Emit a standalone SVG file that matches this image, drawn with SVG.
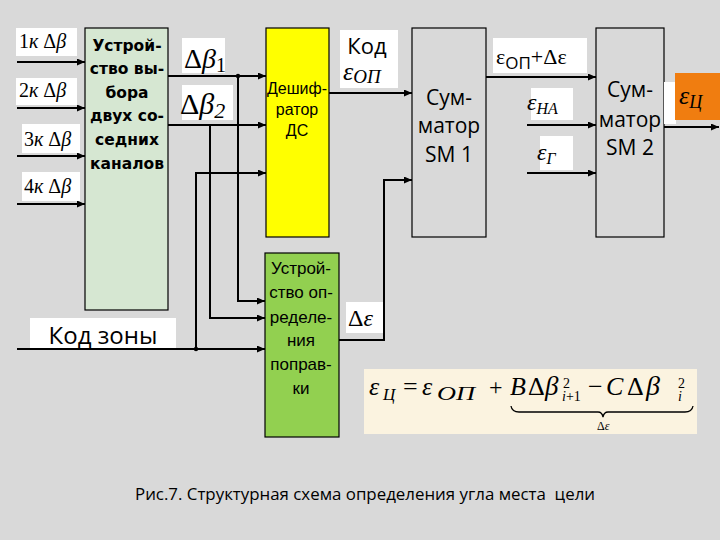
<svg xmlns="http://www.w3.org/2000/svg" width="720" height="540" viewBox="0 0 720 540">
<defs>
<marker id="ar" markerUnits="userSpaceOnUse" markerWidth="8" markerHeight="7" refX="8" refY="3.5" orient="auto"><path d="M0,0 L8,3.5 L0,7 z" fill="#000"/></marker>
<style>
.box{stroke:#000;stroke-width:1.2}
.lbl{fill:#fff}
.w{fill:none;stroke:#000;stroke-width:2}
.sans{font-family:"Open Sans","Liberation Sans",sans-serif;fill:#000}
.ar{font-family:"Liberation Sans","Arial",sans-serif;fill:#000;text-anchor:middle}
.bold{font-family:"DejaVu Sans","Liberation Sans",sans-serif;font-weight:bold;font-size:15.5px;text-anchor:middle}
.math{font-family:"Liberation Serif","DejaVu Serif",serif;fill:#000}
.it{font-style:italic}
</style>
</defs>
<rect width="720" height="540" fill="#d9d9d9"/>

<g id="inputs">
<rect class="lbl" x="16" y="28" width="61" height="28"/>
<text class="math" x="19" y="48" font-size="20">1<tspan class="it">к</tspan> Δ<tspan class="it">β</tspan></text>
<rect class="lbl" x="16" y="78" width="61" height="27"/>
<text class="math" x="19" y="97" font-size="20">2<tspan class="it">к</tspan> Δ<tspan class="it">β</tspan></text>
<rect class="lbl" x="22" y="124" width="58" height="29"/>
<text class="math" x="24" y="146" font-size="20">3<tspan class="it">к</tspan> Δ<tspan class="it">β</tspan></text>
<rect class="lbl" x="22" y="172" width="58" height="29"/>
<text class="math" x="24" y="193" font-size="20">4<tspan class="it">к</tspan> Δ<tspan class="it">β</tspan></text>
</g>

<g id="zone-label">
<rect class="lbl" x="30" y="318" width="146" height="30"/>
<text class="sans" x="103" y="344" font-size="24" text-anchor="middle">Код зоны</text>
</g>

<g id="select">
<rect class="box" x="85" y="28" width="83" height="282" fill="#d6e7d2"/>
<text class="bold" x="127" y="51">Устрой-</text>
<text class="bold" x="127" y="74">ство вы-</text>
<text class="bold" x="127" y="98">бора</text>
<text class="bold" x="127" y="121">двух со-</text>
<text class="bold" x="127" y="145">седних</text>
<text class="bold" x="127" y="169">каналов</text>
</g>

<g id="db-labels">
<rect class="lbl" x="182" y="38" width="43" height="35"/>
<text class="math" x="184" y="68" font-size="28">Δ<tspan class="it">β</tspan><tspan font-size="20" dy="4">1</tspan></text>
<rect class="lbl" x="182" y="85" width="51" height="35"/>
<text class="math" x="180" y="114" font-size="30">Δ<tspan class="it">β</tspan><tspan font-size="22" dy="4" class="it">2</tspan></text>
</g>

<g id="decoder">
<rect class="box" x="266" y="28" width="63" height="209" fill="#ffff00"/>
<text class="ar" x="297" y="94" font-size="16">Дешиф-</text>
<text class="ar" x="297" y="115" font-size="16">ратор</text>
<text class="ar" x="297" y="136" font-size="16">ДС</text>
</g>

<g id="correction">
<rect class="box" x="265" y="253" width="74" height="184" fill="#92d050"/>
<text class="ar" x="301" y="274" font-size="17">Устрой-</text>
<text class="ar" x="301" y="298" font-size="17">ство оп-</text>
<text class="ar" x="301" y="323" font-size="17">ределе-</text>
<text class="ar" x="301" y="346" font-size="17">ния</text>
<text class="ar" x="301" y="370" font-size="17">поправ-</text>
<text class="ar" x="301" y="394" font-size="17">ки</text>
</g>

<g id="kod-label">
<rect class="lbl" x="340" y="30" width="58" height="58"/>
<text class="sans" x="367" y="54" font-size="22" text-anchor="middle">Код</text>
<text class="math it" x="343" y="80" font-size="26">ε<tspan font-size="19" dy="3">ОП</tspan></text>
</g>

<g id="de-label">
<rect class="lbl" x="346" y="302" width="38" height="31"/>
<text class="math" x="348" y="326" font-size="24">Δ<tspan class="it">ε</tspan></text>
</g>

<g id="sm1">
<rect class="box" x="412" y="28" width="74" height="209" fill="#d9d9d9"/>
<text class="sans" x="449" y="105" font-size="21" text-anchor="middle">Сум-</text>
<text class="sans" x="449" y="133" font-size="21" text-anchor="middle">матор</text>
<text class="sans" x="449" y="162" font-size="21" text-anchor="middle">SM 1</text>
</g>

<g id="sum-label">
<rect class="lbl" x="493" y="38" width="94" height="35"/>
<text class="math" x="496" y="64" font-size="22">ε<tspan font-family="Open Sans, sans-serif" font-size="17" dy="5">ОП</tspan><tspan dy="-5">+Δε</tspan></text>
</g>

<g id="na-label">
<rect class="lbl" x="531" y="88" width="42" height="32"/>
<text class="math it" x="527" y="110" font-size="24">ε<tspan font-size="16" dy="4">НА</tspan></text>
</g>

<g id="g-label">
<rect class="lbl" x="540" y="136" width="33" height="34"/>
<text class="math it" x="537" y="160" font-size="24">ε<tspan font-size="16" dy="4">Г</tspan></text>
</g>

<g id="sm2">
<rect class="box" x="596" y="28" width="68" height="209" fill="#d9d9d9"/>
<text class="sans" x="630" y="97" font-size="21" text-anchor="middle">Сум-</text>
<text class="sans" x="630" y="127" font-size="21" text-anchor="middle">матор</text>
<text class="sans" x="630" y="155" font-size="21" text-anchor="middle">SM 2</text>
</g>

<g id="out-label">
<rect class="lbl" x="664" y="82" width="12" height="42"/>
<rect x="675" y="73" width="45" height="47" fill="#f07d10"/>
<text class="math it" x="679" y="104" font-size="26" fill="#000">ε<tspan font-size="18" dy="4">Ц</tspan></text>
</g>

<g id="formula">
<rect x="364" y="369" width="333" height="65" fill="#fbf3e0"/>
<text class="math it" x="369" y="395" font-size="26">ε</text>
<text class="math it" x="383" y="400" font-size="17">Ц</text>
<text class="math" x="403" y="395" font-size="26">=</text>
<text class="math it" x="422" y="395" font-size="26">ε</text>
<text class="math it" x="437" y="400" font-size="19" textLength="38" lengthAdjust="spacingAndGlyphs">ОП</text>
<text class="math" x="489" y="395" font-size="24">+</text>
<text class="math it" x="510" y="395" font-size="26">B</text>
<text class="math" x="528" y="395" font-size="26">Δ</text>
<text class="math it" x="545" y="395" font-size="27">β</text>
<text class="math" x="563" y="388" font-size="14">2</text>
<text class="math" x="562" y="401" font-size="14"><tspan class="it">i</tspan>+1</text>
<text class="math" x="588" y="395" font-size="26">−</text>
<text class="math it" x="606" y="395" font-size="26">C</text>
<text class="math" x="627" y="395" font-size="26">Δ</text>
<text class="math it" x="646" y="395" font-size="28">β</text>
<text class="math" x="678" y="388" font-size="14">2</text>
<text class="math it" x="678" y="401" font-size="14">i</text>
<path d="M511,406 Q512,412 519,412 H598 Q602,412 603,417 Q604,412 608,412 H685 Q692,412 693,406" fill="none" stroke="#000" stroke-width="1.3"/>
<text class="math" x="597" y="430" font-size="12">Δ<tspan class="it">ε</tspan></text>
</g>

<g id="connectors">
<path class="w" d="M17,62 H85" marker-end="url(#ar)"/>
<path class="w" d="M17,108 H85" marker-end="url(#ar)"/>
<path class="w" d="M17,156 H85" marker-end="url(#ar)"/>
<path class="w" d="M17,204 H85" marker-end="url(#ar)"/>
<path class="w" d="M168,76 H266" stroke-width="1.5" marker-end="url(#ar)"/>
<path class="w" d="M168,125 H266" marker-end="url(#ar)"/>
<path class="w" d="M17,349 H265" marker-end="url(#ar)"/>
<path class="w" d="M196,349 V173 H266" marker-end="url(#ar)"/>
<path class="w" d="M210,125 V318 H265" marker-end="url(#ar)"/>
<path class="w" d="M238,76 V301 H265" stroke-width="1.5" marker-end="url(#ar)"/>
<path class="w" d="M329,93 H412" marker-end="url(#ar)"/>
<path class="w" d="M339,340 H384 V180 H412" stroke-width="1.3" marker-end="url(#ar)"/>
<path class="w" d="M486,77 H596" stroke-width="1.5" marker-end="url(#ar)"/>
<path class="w" d="M527,125 H596" marker-end="url(#ar)"/>
<path class="w" d="M527,173 H596" marker-end="url(#ar)"/>
<path class="w" d="M664,127 H719" marker-end="url(#ar)"/>
<circle cx="238" cy="76" r="2.2" fill="#000"/>
<circle cx="196" cy="349" r="2.2" fill="#000"/>
</g>

<text class="sans" x="135" y="500" font-size="17" textLength="460" lengthAdjust="spacingAndGlyphs">Рис.7. Структурная схема определения угла места&#160; цели</text>
</svg>
